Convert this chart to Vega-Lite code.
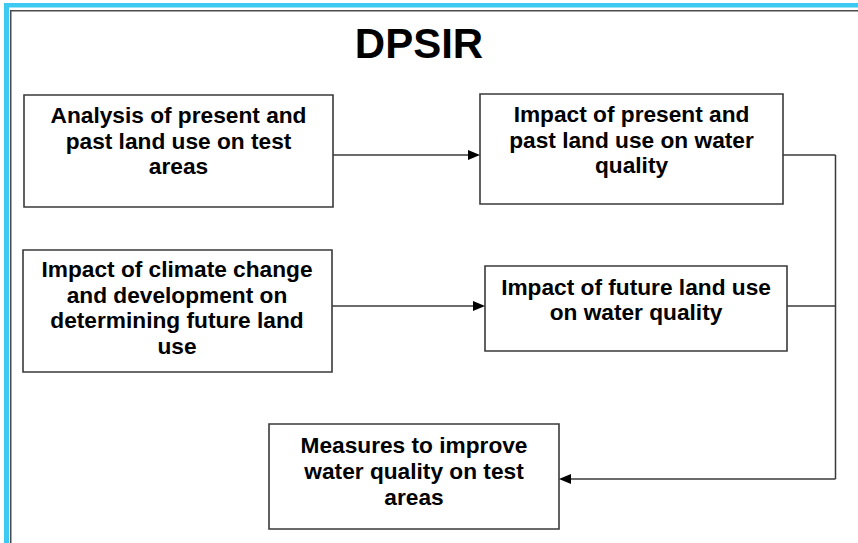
{
  "$schema": "https://vega.github.io/schema/vega-lite/v6.json",
  "width": 858,
  "height": 543,
  "autosize": "none",
  "padding": 0,
  "background": "white",
  "config": {"view": {"stroke": null}},
  "datasets": {
    "frame": [
      {"part": "blue", "x": 4, "x2": 9, "y": 3, "y2": 543},
      {"part": "blue", "x": 4, "x2": 858, "y": 3, "y2": 7.5},
      {"part": "dark", "x": 10, "x2": 11.5, "y": 10, "y2": 543},
      {"part": "dark", "x": 10, "x2": 858, "y": 10, "y2": 11.5}
    ],
    "boxes": [
      {"box": "A", "x": 24, "x2": 333, "y": 95, "y2": 207},
      {"box": "B", "x": 480, "x2": 783, "y": 94, "y2": 204},
      {"box": "C", "x": 23, "x2": 332, "y": 250, "y2": 372},
      {"box": "D", "x": 485, "x2": 787, "y": 266, "y2": 351},
      {"box": "E", "x": 269, "x2": 559, "y": 424, "y2": 529}
    ],
    "connectors": [
      {"x": 333, "x2": 478, "y": 155, "y2": 155},
      {"x": 332, "x2": 483, "y": 306, "y2": 306},
      {"x": 783, "x2": 835.5, "y": 155, "y2": 155},
      {"x": 787, "x2": 835.5, "y": 306, "y2": 306},
      {"x": 835.5, "x2": 835.5, "y": 155, "y2": 479},
      {"x": 835.5, "x2": 562, "y": 479, "y2": 479}
    ],
    "arrows": [
      {"dir": "right", "x": 480, "y": 155},
      {"dir": "right", "x": 485, "y": 306},
      {"dir": "left", "x": 559, "y": 479}
    ],
    "labels": [
      {"text": "Analysis of present and", "x": 178.5, "y": 123},
      {"text": "past land use on test", "x": 178.5, "y": 149},
      {"text": "areas", "x": 178.5, "y": 174},
      {"text": "Impact of present and", "x": 631.5, "y": 122},
      {"text": "past land use on water", "x": 631.5, "y": 148},
      {"text": "quality", "x": 631.5, "y": 173},
      {"text": "Impact of climate change", "x": 177, "y": 277},
      {"text": "and development on", "x": 177, "y": 303},
      {"text": "determining future land", "x": 177, "y": 328},
      {"text": "use", "x": 177, "y": 354},
      {"text": "Impact of future land use", "x": 636, "y": 295},
      {"text": "on water quality", "x": 636, "y": 320},
      {"text": "Measures to improve", "x": 414, "y": 453},
      {"text": "water quality on test", "x": 414, "y": 479},
      {"text": "areas", "x": 414, "y": 505}
    ],
    "title": [
      {"text": "DPSIR", "x": 419, "y": 58}
    ]
  },
  "layer": [
    {
      "data": {"name": "frame"},
      "transform": [{"filter": "datum.part == 'blue'"}],
      "mark": {"type": "rect", "fill": "#3ec9f2", "strokeWidth": 0},
      "encoding": {
        "x": {"field": "x", "type": "quantitative", "scale": {"domain": [0, 858], "nice": false, "zero": false}, "axis": null},
        "x2": {"field": "x2"},
        "y": {"field": "y", "type": "quantitative", "scale": {"domain": [0, 543], "nice": false, "zero": false, "reverse": true}, "axis": null},
        "y2": {"field": "y2"}
      }
    },
    {
      "data": {"name": "frame"},
      "transform": [{"filter": "datum.part == 'dark'"}],
      "mark": {"type": "rect", "fill": "#4a4a4a", "strokeWidth": 0},
      "encoding": {
        "x": {"field": "x", "type": "quantitative", "axis": null},
        "x2": {"field": "x2"},
        "y": {"field": "y", "type": "quantitative", "axis": null},
        "y2": {"field": "y2"}
      }
    },
    {
      "data": {"name": "connectors"},
      "mark": {"type": "rule", "stroke": "#3a3a3a", "strokeWidth": 1.5},
      "encoding": {
        "x": {"field": "x", "type": "quantitative", "axis": null},
        "x2": {"field": "x2"},
        "y": {"field": "y", "type": "quantitative", "axis": null},
        "y2": {"field": "y2"}
      }
    },
    {
      "data": {"name": "boxes"},
      "mark": {"type": "rect", "fill": "white", "stroke": "#3a3a3a", "strokeWidth": 1.6},
      "encoding": {
        "x": {"field": "x", "type": "quantitative", "axis": null},
        "x2": {"field": "x2"},
        "y": {"field": "y", "type": "quantitative", "axis": null},
        "y2": {"field": "y2"}
      }
    },
    {
      "data": {"name": "arrows"},
      "transform": [{"filter": "datum.dir == 'right'"}],
      "mark": {"type": "point", "shape": "M0,0L-1,-0.42L-1,0.42Z", "filled": true, "fill": "black", "stroke": null, "size": 576, "opacity": 1},
      "encoding": {
        "x": {"field": "x", "type": "quantitative", "axis": null},
        "y": {"field": "y", "type": "quantitative", "axis": null}
      }
    },
    {
      "data": {"name": "arrows"},
      "transform": [{"filter": "datum.dir == 'left'"}],
      "mark": {"type": "point", "shape": "M0,0L1,-0.42L1,0.42Z", "filled": true, "fill": "black", "stroke": null, "size": 576, "opacity": 1},
      "encoding": {
        "x": {"field": "x", "type": "quantitative", "axis": null},
        "y": {"field": "y", "type": "quantitative", "axis": null}
      }
    },
    {
      "data": {"name": "labels"},
      "mark": {"type": "text", "font": "Liberation Sans", "fontWeight": "bold", "fontSize": 22.7, "align": "center", "baseline": "alphabetic", "fill": "black"},
      "encoding": {
        "x": {"field": "x", "type": "quantitative", "axis": null},
        "y": {"field": "y", "type": "quantitative", "axis": null},
        "text": {"field": "text"}
      }
    },
    {
      "data": {"name": "title"},
      "mark": {"type": "text", "font": "Liberation Sans", "fontWeight": "bold", "fontSize": 42, "align": "center", "baseline": "alphabetic", "fill": "black"},
      "encoding": {
        "x": {"field": "x", "type": "quantitative", "axis": null},
        "y": {"field": "y", "type": "quantitative", "axis": null},
        "text": {"field": "text"}
      }
    }
  ]
}
